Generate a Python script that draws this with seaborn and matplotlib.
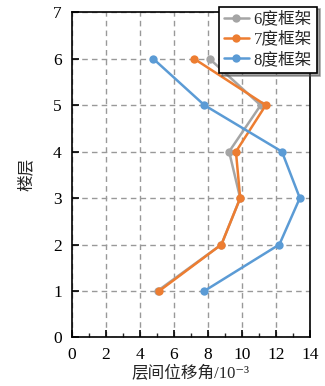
import numpy as np
import pandas as pd
import seaborn as sns
import matplotlib
matplotlib.use("Agg")
import matplotlib.pyplot as plt
from matplotlib.ticker import MultipleLocator

# Storey drift angle (×10^-3) for each storey of the three frames
stories = [1, 2, 3, 4, 5, 6]
drift_6deg = [5.05, 8.8, 9.9, 9.25, 11.1, 8.1]
drift_7deg = [5.15, 8.8, 9.9, 9.65, 11.4, 7.2]
drift_8deg = [7.8, 12.2, 13.4, 12.35, 7.8, 4.8]
series_names = ["6度框架", "7度框架", "8度框架"]
colors = ["#A5A5A5", "#ED7D31", "#5B9BD5"]

df = pd.concat([
    pd.DataFrame({"story": stories, "drift": d, "frame": n})
    for d, n in zip([drift_6deg, drift_7deg, drift_8deg], series_names)
], ignore_index=True)

sns.set_style("white")
plt.rcParams["font.family"] = ["Liberation Serif", "Noto Sans CJK SC", "DejaVu Sans"]

fig = plt.figure(figsize=(3.25, 3.86), dpi=100)
ax = fig.add_axes([0.22, 0.126, 0.734, 0.842])

sns.lineplot(data=df, x="drift", y="story", hue="frame", hue_order=series_names,
             palette=colors, orient="y", sort=False, estimator=None,
             marker="o", markersize=6, markeredgewidth=0, linewidth=1.8,
             ax=ax)

ax.set_xlim(0, 14)
ax.set_ylim(0, 7)
ax.xaxis.set_major_locator(MultipleLocator(2))
ax.xaxis.set_minor_locator(MultipleLocator(1))
ax.yaxis.set_major_locator(MultipleLocator(1))

ax.grid(True, which="major", linestyle=(0, (4, 3)), color="#999999", linewidth=1.0)
ax.set_axisbelow(True)
for s in ax.spines.values():
    s.set_color("black")
    s.set_linewidth(1.2)

ax.tick_params(axis="both", which="major", direction="in", length=5, width=1.2,
               labelsize=12.5, pad=7, colors="black")
ax.tick_params(axis="x", which="minor", direction="in", length=3, width=1.0,
               bottom=True)
ax.tick_params(axis="y", left=True)
ax.tick_params(axis="x", bottom=True)

ax.set_xlabel("层间位移角/10⁻³", fontsize=12, labelpad=2)
ax.set_ylabel("楼层", fontsize=12, labelpad=13)

leg = ax.legend(loc="upper right", bbox_to_anchor=(317 / 325, 1 - 6.5 / 386),
                bbox_transform=fig.transFigure, borderaxespad=0,
                fancybox=False, shadow=True, edgecolor="black",
                framealpha=1, fontsize=12, handlelength=1.5,
                handletextpad=0.3, labelspacing=0.25, borderpad=0.3)
leg.get_frame().set_linewidth(1.2)

fig.savefig("out.png", dpi=100)
